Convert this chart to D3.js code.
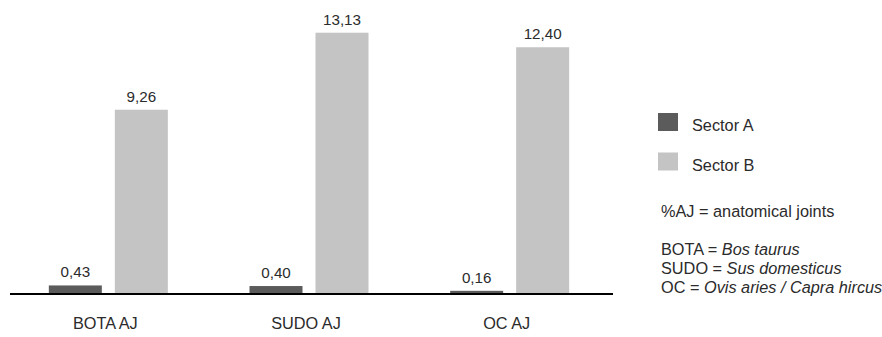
<!DOCTYPE html>
<html>
<head>
<meta charset="utf-8">
<script src="https://cdn.jsdelivr.net/npm/d3@7"></script>
<style>
  html, body { margin: 0; padding: 0; background: #fff; }
  svg { display: block; font-family: "Liberation Sans", Arial, Helvetica, sans-serif; }
</style>
</head>
<body>
<svg id="chart" width="882" height="337"></svg>
<script>
// Percentage of anatomical joints per taxon, by sector
const categories = ["BOTA AJ", "SUDO AJ", "OC AJ"];
const seriesNames = ["Sector A", "Sector B"];
const sectorA = [0.43, 0.40, 0.16];
const sectorB = [9.26, 13.13, 12.40];
const seriesColors = ["#5b5b5b", "#c4c4c4"];
const legendNotes = [
  { lead: "%AJ = anatomical joints", name: "" },
  { lead: "BOTA = ", name: "Bos taurus" },
  { lead: "SUDO = ", name: "Sus domesticus" },
  { lead: "OC = ", name: "Ovis aries / Capra hircus" }
];

const fmt = v => v.toFixed(2).replace(".", ",");
const rows = categories.map((c, i) => ({ cat: c, values: [sectorA[i], sectorB[i]] }));

const svg = d3.select("#chart");
const baseY = 294;
const labelSize = 16.3;

const x0 = d3.scaleBand().domain(categories).range([8, 610]).paddingInner(0).paddingOuter(0);
const x1 = d3.scaleBand().domain(seriesNames).range([-59.5, 59.5]).paddingInner(0.197);
const y = d3.scaleLinear().domain([0, 14]).range([baseY, baseY - 14 * 19.9]);

const groups = svg.selectAll("g.grp").data(rows).join("g")
  .attr("class", "grp")
  .attr("transform", d => `translate(${x0(d.cat) + x0.bandwidth() / 2},0)`);

groups.selectAll("rect").data(d => d.values.map((v, j) => ({ v, s: seriesNames[j], j })))
  .join("rect")
  .attr("x", d => x1(d.s))
  .attr("width", x1.bandwidth())
  .attr("y", d => y(d.v))
  .attr("height", d => baseY - y(d.v))
  .attr("fill", d => seriesColors[d.j]);

groups.selectAll("text.val").data(d => d.values.map((v, j) => ({ v, s: seriesNames[j] })))
  .join("text")
  .attr("class", "val")
  .attr("x", d => x1(d.s) + x1.bandwidth() / 2)
  .attr("y", d => y(d.v) - 8)
  .attr("text-anchor", "middle")
  .attr("font-size", 15.2)
  .attr("fill", "#2b2b2b")
  .text(d => fmt(d.v));

// baseline axis with category labels
const xAxis = d3.axisBottom(x0).tickSize(0).tickPadding(0);
const axisG = svg.append("g").attr("transform", `translate(0,${baseY})`).call(xAxis);
axisG.select(".domain").attr("d", "M10,0H613").attr("stroke", "#000").attr("stroke-width", 2);
axisG.selectAll(".tick text")
  .attr("font-family", "Liberation Sans, Arial, sans-serif")
  .attr("font-size", labelSize)
  .attr("fill", "#2b2b2b")
  .attr("dy", null)
  .attr("y", 35)
  .attr("x", -3);

// legend
const legend = svg.append("g");
seriesNames.forEach((s, i) => {
  const ly = 113 + i * 39.5;
  legend.append("rect").attr("x", 658).attr("y", ly).attr("width", 20).attr("height", 18)
    .attr("fill", seriesColors[i]);
  legend.append("text").attr("x", 692).attr("y", ly + 18).attr("font-size", labelSize)
    .attr("fill", "#2b2b2b").text(s);
});

const noteY = [217, 255, 274, 293];
legendNotes.forEach((n, i) => {
  const t = legend.append("text").attr("x", 661).attr("y", noteY[i]).attr("font-size", labelSize)
    .attr("fill", "#2b2b2b");
  t.append("tspan").text(n.lead);
  if (n.name) t.append("tspan").attr("font-style", "italic").text(n.name);
});
</script>
</body>
</html>
